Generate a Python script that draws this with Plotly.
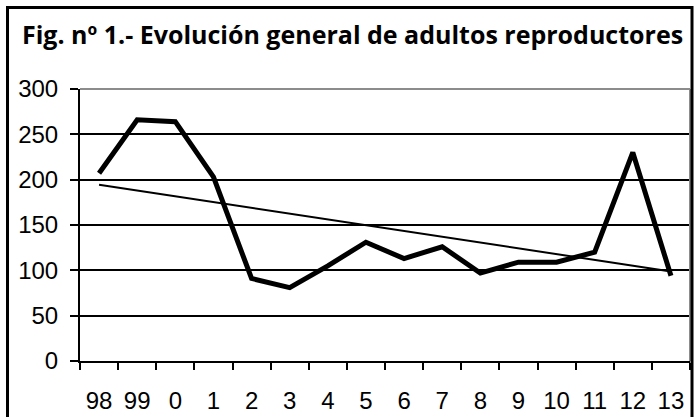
import numpy as np
import plotly.graph_objects as go

years = ["98", "99", "0", "1", "2", "3", "4", "5", "6", "7", "8", "9", "10", "11", "12", "13"]
adults = [207, 266, 264, 203, 91, 81, 105, 131, 113, 126, 97, 109, 109, 120, 230, 94]
y_ticks = [0, 50, 100, 150, 200, 250, 300]

idx = np.arange(len(adults))
slope, intercept = np.polyfit(idx, adults, 1)
trend = [intercept + slope * i for i in idx]

W, H = 699, 417
L, R, T, B = 80, 9, 89, 56
pw, ph = W - L - R, H - T - B

def px_x(x):
    return (x - L) / pw

def px_y(y):
    return (H - B - y) / ph

fig = go.Figure()
fig.add_trace(go.Scatter(x=years, y=adults, mode="lines",
                         line=dict(color="black", width=5), showlegend=False))
fig.add_trace(go.Scatter(x=years, y=trend, mode="lines",
                         line=dict(color="black", width=2), showlegend=False))

fig.update_layout(
    width=W, height=H,
    margin=dict(l=L, r=R, t=T, b=B, autoexpand=False),
    paper_bgcolor="white", plot_bgcolor="white",
    font=dict(family="Liberation Sans", size=24, color="black"),
    xaxis=dict(type="category", tickson="boundaries", showgrid=False,
               showline=True, linecolor="black", linewidth=2,
               ticks="outside", ticklen=7, tickwidth=2, tickcolor="black",
               ticklabelstandoff=17, range=[-0.5, 15.5], fixedrange=True,
               automargin=False),
    yaxis=dict(range=[0, 300], tickvals=y_ticks, showgrid=True,
               gridcolor="black", gridwidth=1.5, zeroline=False,
               showline=True, linecolor="black", linewidth=2,
               ticks="outside", ticklen=8, tickwidth=2, tickcolor="black",
               ticklabelstandoff=7, fixedrange=True, automargin=False),
    shapes=[
        dict(type="line", xref="paper", yref="paper", x0=0, x1=1, y0=1, y1=1,
             line=dict(color="#8c8c8c", width=2), layer="above"),
        dict(type="line", xref="paper", yref="paper", x0=1, x1=1, y0=0, y1=1,
             line=dict(color="#8c8c8c", width=2), layer="above"),
        # outer chart border
        dict(type="path", xref="paper", yref="paper", layer="above",
             path=(f"M {px_x(7.5)},{px_y(425)} L {px_x(7.5)},{px_y(7.5)} "
                   f"L {px_x(692)},{px_y(7.5)} L {px_x(692)},{px_y(425)}"),
             line=dict(color="black", width=3)),
    ],
    annotations=[
        dict(text="<b>Fig. nº 1.- Evolución general de adultos reproductores</b>",
             xref="paper", yref="paper", x=px_x(20), y=px_y(34),
             xanchor="left", yanchor="middle", showarrow=False,
             font=dict(family="Open Sans", size=25, color="black")),
    ],
)

fig.write_html("out.html", config={"displayModeBar": False},
               post_script="document.body.style.margin='0';")
